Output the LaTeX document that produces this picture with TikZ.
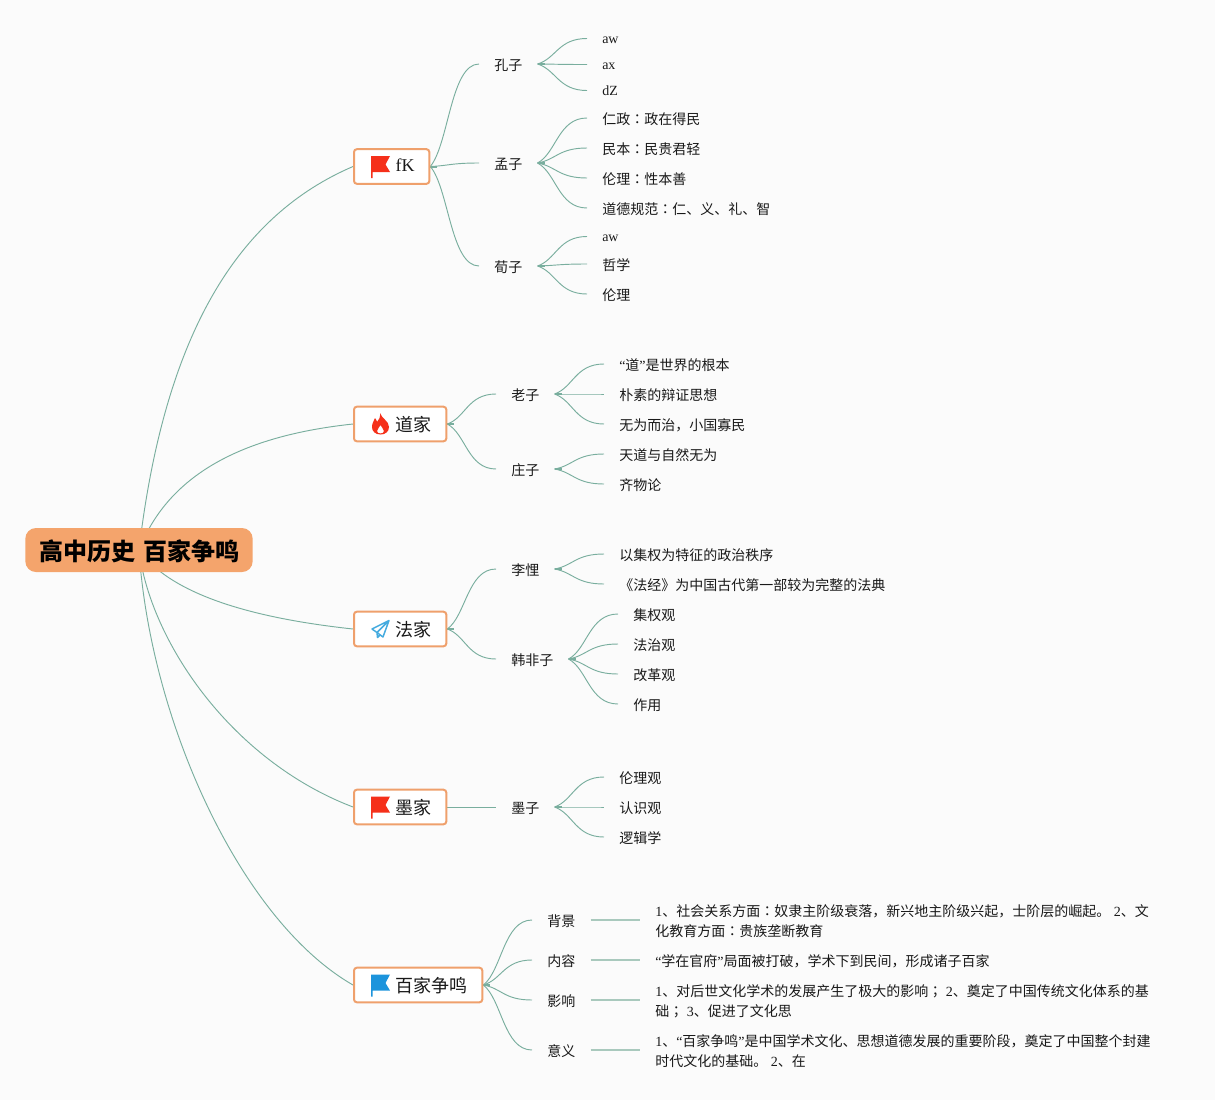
\documentclass[tikz,border=0pt]{standalone}
\usepackage{fontspec}
\usetikzlibrary{calc,backgrounds}
\setmainfont{Liberation Serif}
\newfontfamily\cjk{Noto Sans CJK SC}
\newfontfamily\cjktc{Noto Sans CJK TC}
\newcommand{\lat}[1]{{\rmfamily #1}}
\newcommand{\cn}{{\cjktc ：}}
\newcommand{\sm}{{\cjktc ；}}
\definecolor{pagebg}{HTML}{FBFBFB}
\definecolor{linecol}{HTML}{79AE9E}
\definecolor{palecol}{HTML}{A9C9BD}
\definecolor{boxline}{HTML}{EFA06C}
\definecolor{rootfill}{HTML}{F4A46C}
\definecolor{flagred}{HTML}{F5301A}
\definecolor{flagblue}{HTML}{1C94DC}
\definecolor{planeblue}{HTML}{45ABDF}
\tikzset{
  x=0.75pt,y=-0.75pt,
  txt/.style={font=\cjk\fontsize{10.5}{15}\selectfont,text=black!90,anchor=west,inner xsep=11.25pt,inner ysep=0pt,text height=10.6pt,text depth=0.3pt},
  lt/.style={txt,text height=8.4pt},
  para/.style={font=\cjk\fontsize{10.5}{15}\selectfont,text=black!90,anchor=west,inner xsep=11.25pt,inner ysep=0pt,align=left},
  branchbox/.style={draw=boxline,line width=1.5pt,fill=white,rounded corners=2.2pt,font=\cjk\fontsize{13.5}{16}\selectfont,text=black!90,inner xsep=11pt,inner ysep=0pt,minimum height=26pt,anchor=west,text height=11.8pt,text depth=0pt},
  rootbox/.style={fill=rootfill,rounded corners=8pt,font=\cjk\bfseries\fontsize{18}{20}\selectfont,text=black,inner xsep=0pt,inner ysep=0pt,minimum height=33pt,minimum width=170.5pt,text height=15.2pt,text depth=0pt,text width=170pt,align=center},
  conn/.style={draw=linecol,line width=0.7pt},
  stub/.style={draw=linecol,line width=1.5pt},
  pale/.style={draw=palecol,line width=1.4pt}
}
\newcommand{\curve}[2]{%
  \draw[conn] let \p1=(#1.east),\p2=(#2.west) in
    (\p1) .. controls ({\x1+0.38*(\x2-\x1)},{\y1+0.22*(\y2-\y1)}) and ({\x1+0.42*(\x2-\x1)},{\y2}) .. (\p2);}
\newcommand{\kids}[2]{%
  \foreach \k in {#2}{\curve{#1}{\k}}
  \draw[stub] (#1.east) -- ++(7,0);}
\newcommand{\flagicon}[2]{%
  \begin{scope}[shift={(#2.west)}]
    \fill[#1] (18,-10.5) -- (37,-10.5) -- (32.5,-2) -- (37,5.5) -- (19.5,5.5) -- (19.5,11.5) -- (18,11.5) -- cycle;
  \end{scope}}
\begin{document}
\begin{tikzpicture}
\useasboundingbox (0,0) rectangle (1215,1100);
% nodes
\node[rootbox] (root) at (139,550) {\hspace*{0.75pt}高中历史\hspace{6pt}百家争鸣};
\node[branchbox,text height=8pt] (b1) at (353,166.5) {\hspace*{20.25pt}\lat{fK}};
\node[branchbox] (b2) at (353,424) {\hspace*{20.25pt}道家};
\node[branchbox] (b3) at (353,629) {\hspace*{20.25pt}法家};
\node[branchbox] (b4) at (353,807) {\hspace*{20.25pt}墨家};
\node[branchbox] (b5) at (353,985) {\hspace*{20.25pt}百家争鸣};
% level 2
\node[txt] (kz) at (479,64) {孔子};
\node[txt] (mz) at (479,163) {孟子};
\node[txt] (xz) at (479,266) {荀子};
\node[txt] (lao) at (496,394) {老子};
\node[txt] (zh) at (496,469) {庄子};
\node[txt] (lk) at (496,569) {李悝};
\node[txt] (hf) at (496,659) {韩非子};
\node[txt] (mo) at (496,807) {墨子};
\node[txt] (bj) at (532,920) {背景};
\node[txt] (nr) at (532,960) {内容};
\node[txt] (yx) at (532,1000) {影响};
\node[txt] (yy) at (532,1050) {意义};
% leaves
\node[lt] (a1) at (587,38.5) {\lat{aw}};
\node[lt] (a2) at (587,64.5) {\lat{ax}};
\node[lt] (a3) at (587,90.5) {\lat{dZ}};
\node[txt] (m1) at (587,118) {仁政\cn 政在得民};
\node[txt] (m2) at (587,148) {民本\cn 民贵君轻};
\node[txt] (m3) at (587,178) {伦理\cn 性本善};
\node[txt] (m4) at (587,208) {道德规范\cn 仁、义、礼、智};
\node[lt] (x1) at (587,236.5) {\lat{aw}};
\node[txt] (x2) at (587,264) {哲学};
\node[txt] (x3) at (587,294) {伦理};
\node[txt] (l1) at (604,364) {\lat{“}道\lat{”}是世界的根本};
\node[txt] (l2) at (604,394) {朴素的辩证思想};
\node[txt] (l3) at (604,424) {无为而治，小国寡民};
\node[txt] (z1) at (604,454) {天道与自然无为};
\node[txt] (z2) at (604,484) {齐物论};
\node[txt] (k1) at (604,554) {以集权为特征的政治秩序};
\node[txt] (k2) at (604,584) {《法经》为中国古代第一部较为完整的法典};
\node[txt] (h1) at (618,614) {集权观};
\node[txt] (h2) at (618,644) {法治观};
\node[txt] (h3) at (618,674) {改革观};
\node[txt] (h4) at (618,704) {作用};
\node[txt] (o1) at (604,777) {伦理观};
\node[txt] (o2) at (604,807) {认识观};
\node[txt] (o3) at (604,837) {逻辑学};
\node[para] (t1) at (640,921) {\lat{1}、社会关系方面\cn 奴隶主阶级衰落，新兴地主阶级兴起，士阶层的崛起。\lat{ 2}、文\\化教育方面\cn 贵族垄断教育};
\node[txt] (t2) at (640,960) {\lat{“}学在官府\lat{”}局面被打破，学术下到民间，形成诸子百家};
\node[para] (t3) at (640,1001) {\lat{1}、对后世文化学术的发展产生了极大的影响\sm\lat{ 2}、奠定了中国传统文化体系的基\\础\sm\lat{ 3}、促进了文化思};
\node[para] (t4) at (640,1051) {\lat{1}、\lat{“}百家争鸣\lat{”}是中国学术文化、思想道德发展的重要阶段，奠定了中国整个封建\\时代文化的基础。\lat{ 2}、在};
% icons
\flagicon{flagred}{b1}
\flagicon{flagred}{b4}
\flagicon{flagblue}{b5}
\begin{scope}[shift={(b2.west)}]
  \fill[flagred,even odd rule]
    (27,-11) .. controls (29,-5) and (36,-3) .. (36,3) .. controls (36,8) and (32,10.5) .. (27.5,10.5)
    .. controls (22,10.5) and (19,7) .. (19,3) .. controls (19,-1) and (21,-3) .. (22,-6)
    .. controls (23.5,-4) and (24,-3) .. (24,-2) .. controls (26,-4) and (27.5,-7) .. (27,-11) -- cycle
    (27.5,1) .. controls (27,3.5) and (24,4.5) .. (24,7) .. controls (24,8.5) and (25.5,9.5) .. (27.5,9.5)
    .. controls (29.5,9.5) and (31,8.5) .. (31,7) .. controls (31,4.5) and (28,3.5) .. (27.5,1) -- cycle;
\end{scope}
\begin{scope}[shift={(b3.west)}]
  \draw[planeblue,line width=1.1pt,line join=round]
    (36,-8.5) -- (19,0) -- (24,3.5) -- (36,-8.5) -- (30,8) -- (24,3.5) -- (24.5,8.5) -- (27,6);
\end{scope}
% connectors
\begin{pgfonlayer}{background}
\fill[pagebg] (0,0) rectangle (1215,1100);
\draw[conn] (root.center) .. controls (165,330) and (240,215) .. (b1.west);
\draw[conn] (root.center) .. controls (170,470) and (250,435) .. (b2.west);
\draw[conn] (root.center) .. controls (175,600) and (270,620) .. (b3.west);
\draw[conn] (root.center) .. controls (150,640) and (230,760) .. (b4.west);
\draw[conn] (root.center) .. controls (150,720) and (240,920) .. (b5.west);
\kids{b1}{kz,mz,xz}
\kids{kz}{a1,a2,a3}
\kids{mz}{m1,m2,m3,m4}
\kids{xz}{x1,x2,x3}
\kids{b2}{lao,zh}
\kids{lao}{l1,l2,l3}
\kids{zh}{z1,z2}
\kids{b3}{lk,hf}
\kids{lk}{k1,k2}
\kids{hf}{h1,h2,h3,h4}
\draw[conn] (b4.east) -- (mo.west);
\kids{mo}{o1,o2,o3}
\kids{b5}{bj,nr,yx,yy}
\draw[pale] (bj.east) -- (bj.east -| t1.west);
\draw[pale] (nr.east) -- (nr.east -| t2.west);
\draw[pale] (yx.east) -- (yx.east -| t3.west);
\draw[pale] (yy.east) -- (yy.east -| t4.west);
\end{pgfonlayer}
\end{tikzpicture}
\end{document}
